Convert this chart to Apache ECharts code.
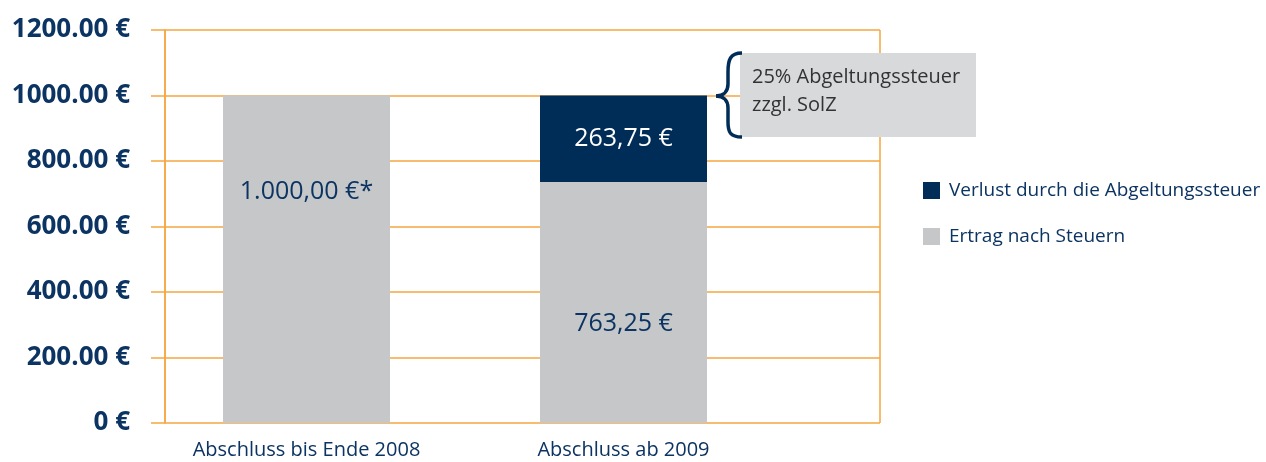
<!DOCTYPE html>
<html>
	<head>
		<meta charset="UTF-8">
		<title></title>
		<script src="https://cdn.jsdelivr.net/npm/echarts@6/dist/echarts.min.js"></script>
		<style>
			body { margin: 0; background: #fff; }
		</style>
	</head>
	<body>
		<div id="chart" style="width: 1266px;height: 462px;"></div>
		<script type="text/javascript">
			var categories = ['Abschluss bis Ende 2008', 'Abschluss ab 2009'];
			var ertrag = [1000, 736.25];
			var verlust = [0, 263.75];
			var ertragLabels = ['1.000,00 €*', '763,25 €'];
			var verlustLabels = ['', '263,75 €'];
			var yTicks = [0, 200, 400, 600, 800, 1000, 1200];
			var yTickLabels = ['0 €', '200.00 €', '400.00 €', '600.00 €', '800.00 €', '1000.00 €', '1200.00 €'];

			var navy = '#002c58';
			var grey = '#c6c7c9';
			var textNavy = '#0c3462';
			var orange = '#f6a640';
			var font = '"Open Sans", sans-serif';

			// label offsets from bar top (px)
			var ertragLabelTop = [96, 142];

			var myChart = echarts.init(document.getElementById('chart'));

			function brace(x1, y1, cpx1, cpy1, cpx2, cpy2, x2, y2) {
				return {
					type: 'bezierCurve',
					z: 100,
					shape: { x1: x1, y1: y1, cpx1: cpx1, cpy1: cpy1, cpx2: cpx2, cpy2: cpy2, x2: x2, y2: y2 },
					style: { stroke: navy, lineWidth: 3.5, fill: null }
				};
			}

			var option = {
				animation: false,
				textStyle: { fontFamily: font },
				grid: [
					{ left: 165, right: 386, top: 30, bottom: 39 },
					{ left: 148, right: 484, top: 30, bottom: 39 }
				],
				legend: {
					orient: 'vertical',
					left: 918,
					top: 176,
					itemWidth: 17,
					itemHeight: 17,
					itemGap: 27,
					icon: 'rect',
					data: ['Verlust durch die Abgeltungssteuer', 'Ertrag nach Steuern'],
					textStyle: { color: textNavy, fontSize: 19, fontFamily: font, padding: [0, 0, 0, 4] }
				},
				xAxis: [
					{
						gridIndex: 0, type: 'value', min: 0, max: 1, interval: 1,
						axisLine: { show: false }, axisTick: { show: false }, axisLabel: { show: false },
						splitLine: { show: true, lineStyle: { color: orange, width: 1.5 } }
					},
					{
						gridIndex: 1, type: 'category', data: categories,
						axisLine: { show: false }, axisTick: { show: false },
						axisLabel: { color: textNavy, fontSize: 20, margin: 17, fontFamily: font }
					}
				],
				yAxis: [
					{
						gridIndex: 0, type: 'value', min: 0, max: 1200, interval: 200,
						axisLine: { show: true, lineStyle: { color: orange, width: 1.5 } },
						axisTick: { show: true, length: 14, lineStyle: { color: orange, width: 1.5 } },
						splitLine: { show: true, lineStyle: { color: orange, width: 1.5 } },
						axisLabel: {
							color: textNavy, fontSize: 26, fontWeight: 'bold', margin: 35, fontFamily: font,
							formatter: function (v) { return yTickLabels[yTicks.indexOf(v)]; }
						}
					},
					{
						gridIndex: 1, type: 'value', min: 0, max: 1200, show: false,
						splitLine: { show: false }
					}
				],
				series: [
					{
						name: 'Ertrag nach Steuern',
						type: 'bar',
						stack: 'a',
						xAxisIndex: 1,
						yAxisIndex: 1,
						barWidth: 167,
						itemStyle: { color: grey },
						data: ertrag.map(function (v, i) {
							return { value: v, label: { position: ['50%', ertragLabelTop[i]] } };
						}),
						label: {
							show: true,
							align: 'center',
							verticalAlign: 'middle',
							color: textNavy,
							fontSize: 25,
							fontFamily: font,
							formatter: function (p) { return ertragLabels[p.dataIndex]; }
						}
					},
					{
						name: 'Verlust durch die Abgeltungssteuer',
						type: 'bar',
						stack: 'a',
						xAxisIndex: 1,
						yAxisIndex: 1,
						barWidth: 167,
						itemStyle: { color: navy },
						data: verlust,
						label: {
							show: true,
							position: 'inside',
							color: '#ffffff',
							fontSize: 25,
							fontFamily: font,
							formatter: function (p) { return verlustLabels[p.dataIndex]; }
						}
					}
				],
				graphic: [
					{
						type: 'rect',
						z: 100,
						shape: { x: 740, y: 53, width: 236, height: 84 },
						style: { fill: '#d8d9db' }
					},
					{
						type: 'text',
						z: 101,
						x: 752, y: 63,
						style: {
							text: '25% Abgeltungssteuer\nzzgl. SolZ',
							fill: '#333333',
							font: '20px ' + font,
							lineHeight: 28
						}
					},
					brace(742, 53, 730, 53, 728, 60, 728, 72),
					{ type: 'line', z: 100, shape: { x1: 728, y1: 72, x2: 728, y2: 84 }, style: { stroke: navy, lineWidth: 3.5 } },
					brace(728, 84, 728, 92, 723, 96, 716, 96),
					brace(716, 96, 723, 96, 728, 100, 728, 108),
					{ type: 'line', z: 100, shape: { x1: 728, y1: 108, x2: 728, y2: 122 }, style: { stroke: navy, lineWidth: 3.5 } },
					brace(728, 122, 728, 132, 730, 137, 742, 137)
				]
			};
			myChart.setOption(option);
		</script>
	</body>
</html>
